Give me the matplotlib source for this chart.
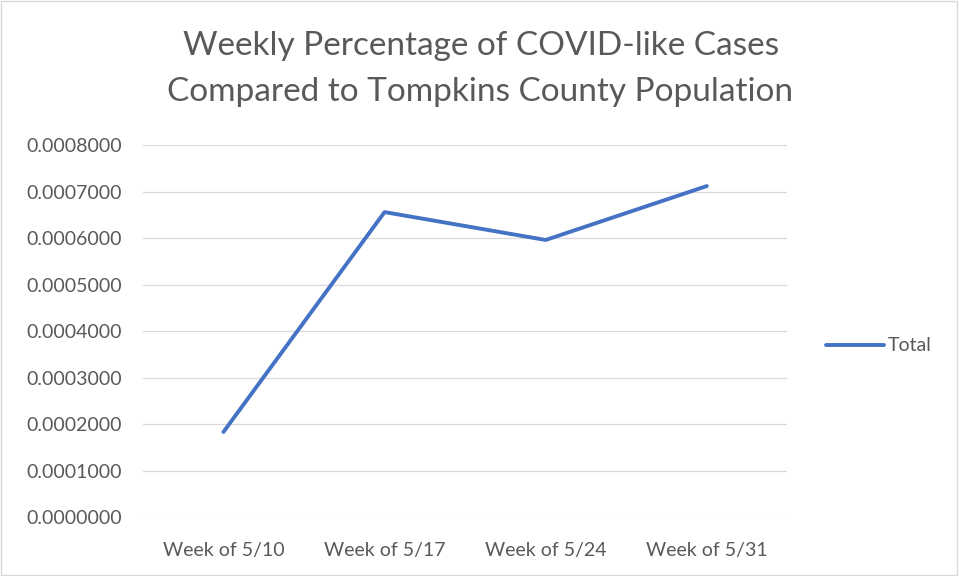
import matplotlib.pyplot as plt
from matplotlib.patches import Rectangle

weeks = ["Week of 5/10", "Week of 5/17", "Week of 5/24", "Week of 5/31"]
total = [0.000183, 0.000656, 0.000596, 0.000712]
yticks = [0.0000, 0.0001, 0.0002, 0.0003, 0.0004, 0.0005, 0.0006, 0.0007, 0.0008]

plt.rcParams['font.family'] = ['Lato', 'DejaVu Sans']
grey = '#595959'

fig = plt.figure(figsize=(9.59, 5.76), dpi=100)
ax = fig.add_axes([0.149, 0.1024, 0.672, 0.6456])

x = range(len(weeks))
ax.plot(x, total, color='#4472C4', lw=2.8, solid_capstyle='round',
        solid_joinstyle='round', label='Total')

ax.set_xlim(-0.5, len(weeks) - 0.5)
ax.set_ylim(0, 0.0008)
ax.set_yticks(yticks)
ax.set_yticklabels([f"{v:.7f}" for v in yticks])
ax.set_xticks(list(x))
ax.set_xticklabels(weeks)
ax.tick_params(length=0, labelsize=14, colors=grey)
ax.tick_params(axis='y', pad=15)
ax.tick_params(axis='x', pad=18)
for s in ax.spines.values():
    s.set_visible(False)
ax.grid(axis='y', color='#d9d9d9', lw=0.9)
ax.set_axisbelow(True)

fig.text(0.502, 0.921, "Weekly Percentage of COVID-like Cases", ha='center',
         va='center', fontsize=24, color=grey)
fig.text(0.501, 0.84, "Compared to Tompkins County Population", ha='center',
         va='center', fontsize=24, color=grey)

ax.legend(loc='center left', bbox_to_anchor=(1.06, 0.46), frameon=False,
          fontsize=14, labelcolor=grey, handlelength=3.0, handletextpad=0.15,
          borderaxespad=0, borderpad=0)

fig.patches.append(Rectangle((0.001, 0.002), 0.997, 0.996, transform=fig.transFigure,
                             fill=False, edgecolor='#d9d9d9', lw=1))

fig.savefig('out.png', dpi=100)
